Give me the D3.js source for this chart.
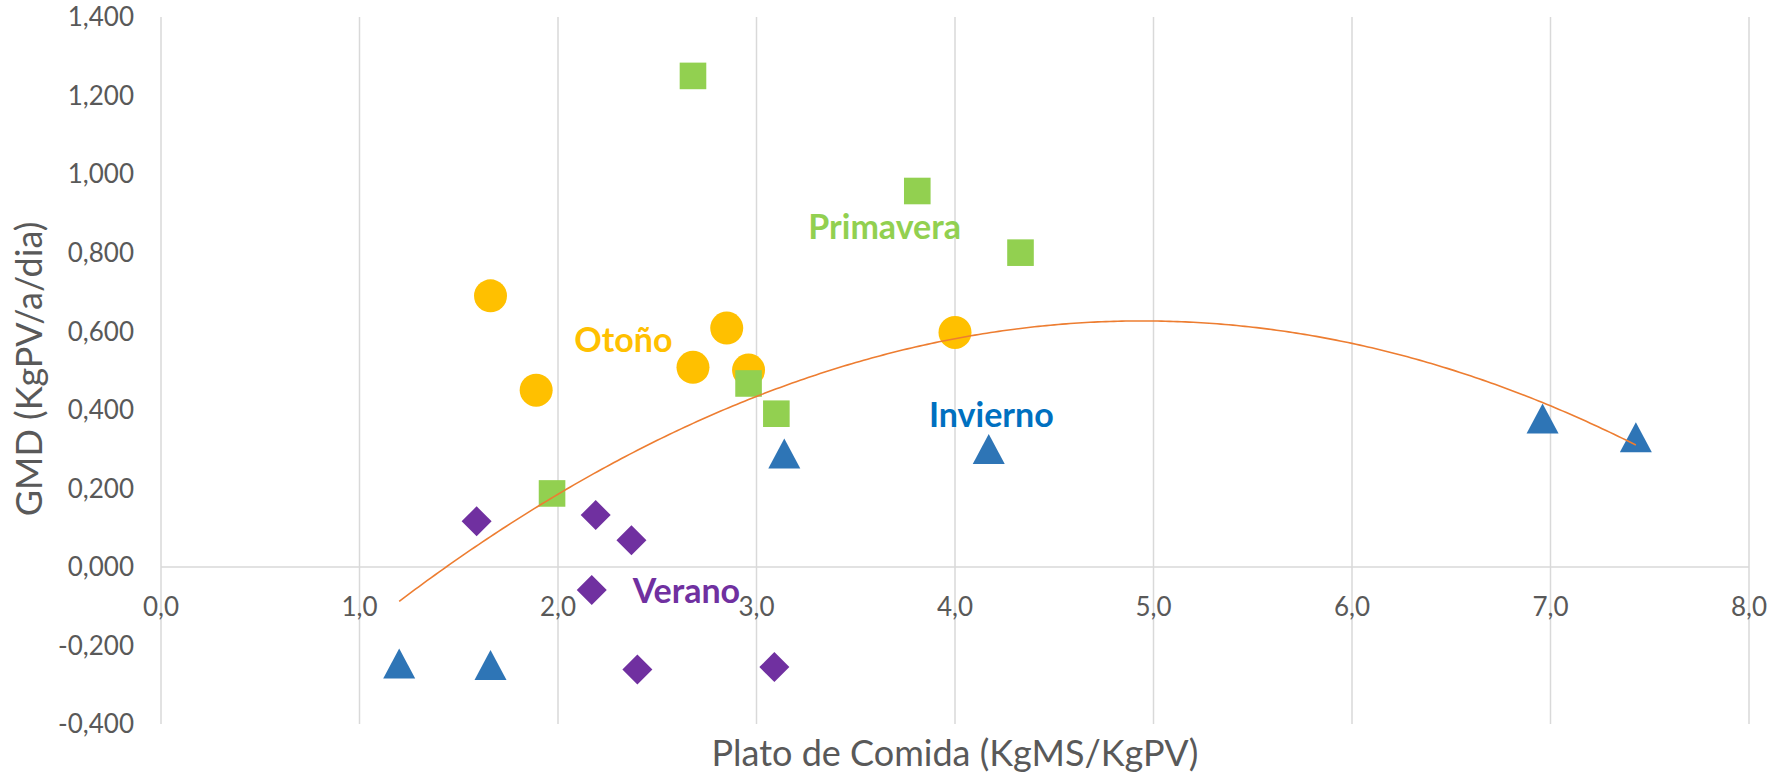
<!DOCTYPE html>
<meta charset="utf-8">
<style>
body { margin: 0; background: #fff; }
text { font-family: Lato, "Open Sans", sans-serif; }
.tick-label { font-size: 26px; fill: #595959; }
.axis-title { font-size: 36px; fill: #595959; }
.grid { stroke: #d9d9d9; stroke-width: 1.5px; }
.trend { fill: none; stroke: #ed7d31; stroke-width: 1.6px; }
.season { font-size: 34px; font-weight: bold; }
</style>
<body>
<script src="https://cdn.jsdelivr.net/npm/d3@7"></script>
<script>

var width = 1768,
    height = 777;

// Otoño (circulos)
var otonoX = [1.66, 1.89, 2.68, 2.85, 2.96, 4.00];
var otonoY = [0.690, 0.450, 0.508, 0.608, 0.501, 0.597];
// Primavera (cuadrados)
var primaveraX = [2.68, 3.81, 4.33, 2.96, 3.10, 1.97];
var primaveraY = [1.250, 0.957, 0.800, 0.467, 0.390, 0.187];
// Verano (rombos)
var veranoX = [1.59, 2.19, 2.37, 2.17, 2.40, 3.09];
var veranoY = [0.116, 0.132, 0.068, -0.059, -0.261, -0.255];
// Invierno (triangulos)
var inviernoX = [1.20, 1.66, 3.14, 4.17, 6.96, 7.43];
var inviernoY = [-0.246, -0.250, 0.289, 0.300, 0.378, 0.330];

// tendencia polinomica (orden 2): a + b*x + c*x^2
var trendCoef = [-0.619, 0.504, -0.051];
var trendRange = [1.20, 7.43];

var xTicks = [0, 1, 2, 3, 4, 5, 6, 7, 8];
var yTicks = [-0.4, -0.2, 0, 0.2, 0.4, 0.6, 0.8, 1.0, 1.2, 1.4];

var seasonNames = ["Otoño", "Primavera", "Verano", "Invierno"];
var seasonLabelX = [2.082, 3.261, 2.376, 3.869];
var seasonLabelY = [0.548, 0.834, -0.091, 0.357];

var colors = {
  "Otoño": "#ffc000",
  "Primavera": "#92d050",
  "Verano": "#7030a0",
  "Invierno": "#2e75b6"
};
var labelColors = {
  "Otoño": "#ffc000",
  "Primavera": "#92d050",
  "Verano": "#7030a0",
  "Invierno": "#0070c0"
};

var locale = d3.formatLocale({decimal: ",", thousands: ".", grouping: [3], currency: ["", ""], minus: "-"});
var fmtY = locale.format(".3f"),
    fmtX = locale.format(".1f");

var x = d3.scaleLinear().domain([0, 8]).range([161, 1749]);
var y = d3.scaleLinear().domain([-0.4, 1.4]).range([724, 17]);

var svg = d3.select("body").append("svg")
    .attr("width", width)
    .attr("height", height);

// vertical gridlines
svg.selectAll(".vgrid")
  .data(xTicks)
  .enter().append("line")
    .attr("class", "grid")
    .attr("x1", function(d){ return x(d); })
    .attr("x2", function(d){ return x(d); })
    .attr("y1", y(1.4))
    .attr("y2", y(-0.4));

// horizontal axis line at zero
svg.append("line")
  .attr("class", "grid")
  .attr("x1", x(0))
  .attr("x2", x(8))
  .attr("y1", y(0))
  .attr("y2", y(0));

// y tick labels
svg.selectAll(".ylab")
  .data(yTicks)
  .enter().append("text")
    .attr("class", "tick-label")
    .attr("x", x(0) - 27)
    .attr("y", function(d){ return y(d); })
    .attr("dy", "0.36em")
    .attr("text-anchor", "end")
    .text(function(d){ return fmtY(d); });

// x tick labels (sit just under the zero line)
svg.selectAll(".xlab")
  .data(xTicks)
  .enter().append("text")
    .attr("class", "tick-label")
    .attr("x", function(d){ return x(d); })
    .attr("y", y(0) + 49)
    .attr("text-anchor", "middle")
    .text(function(d){ return fmtX(d); });

// axis titles
svg.append("text")
  .attr("class", "axis-title")
  .attr("x", (x(0) + x(8)) / 2)
  .attr("y", 766)
  .attr("text-anchor", "middle")
  .text("Plato de Comida (KgMS/KgPV)");

svg.append("text")
  .attr("class", "axis-title")
  .attr("transform", "translate(42,369) rotate(-90)")
  .attr("text-anchor", "middle")
  .text("GMD (KgPV/a/dia)");

function pts(xs, ys){
  return xs.map(function(v, i){ return [v, ys[i]]; });
}

// Otoño circles
svg.selectAll(".otono")
  .data(pts(otonoX, otonoY))
  .enter().append("circle")
    .attr("cx", function(d){ return x(d[0]); })
    .attr("cy", function(d){ return y(d[1]); })
    .attr("r", 16.5)
    .style("fill", colors["Otoño"]);

// Verano diamonds
svg.selectAll(".verano")
  .data(pts(veranoX, veranoY))
  .enter().append("path")
    .attr("d", "M0,-15L15,0L0,15L-15,0Z")
    .attr("transform", function(d){ return "translate(" + x(d[0]) + "," + y(d[1]) + ")"; })
    .style("fill", colors["Verano"]);

// Primavera squares
svg.selectAll(".primavera")
  .data(pts(primaveraX, primaveraY))
  .enter().append("rect")
    .attr("x", function(d){ return x(d[0]) - 13.3; })
    .attr("y", function(d){ return y(d[1]) - 13.3; })
    .attr("width", 26.6)
    .attr("height", 26.6)
    .style("fill", colors["Primavera"]);

// Invierno triangles
svg.selectAll(".invierno")
  .data(pts(inviernoX, inviernoY))
  .enter().append("path")
    .attr("d", "M0,-15L16,15L-16,15Z")
    .attr("transform", function(d){ return "translate(" + x(d[0]) + "," + y(d[1]) + ")"; })
    .style("fill", colors["Invierno"]);

// trend line
var trendX = d3.range(trendRange[0], trendRange[1], 0.02).concat([trendRange[1]]);
var line = d3.line()
  .x(function(d){ return x(d); })
  .y(function(d){ return y(trendCoef[0] + trendCoef[1] * d + trendCoef[2] * d * d); });
svg.append("path")
  .datum(trendX)
  .attr("class", "trend")
  .attr("d", line);

// season labels
svg.selectAll(".season")
  .data(seasonNames)
  .enter().append("text")
    .attr("class", "season")
    .attr("x", function(d, i){ return x(seasonLabelX[i]); })
    .attr("y", function(d, i){ return y(seasonLabelY[i]); })
    .style("fill", function(d){ return labelColors[d]; })
    .text(function(d){ return d; });

</script>
</body>
